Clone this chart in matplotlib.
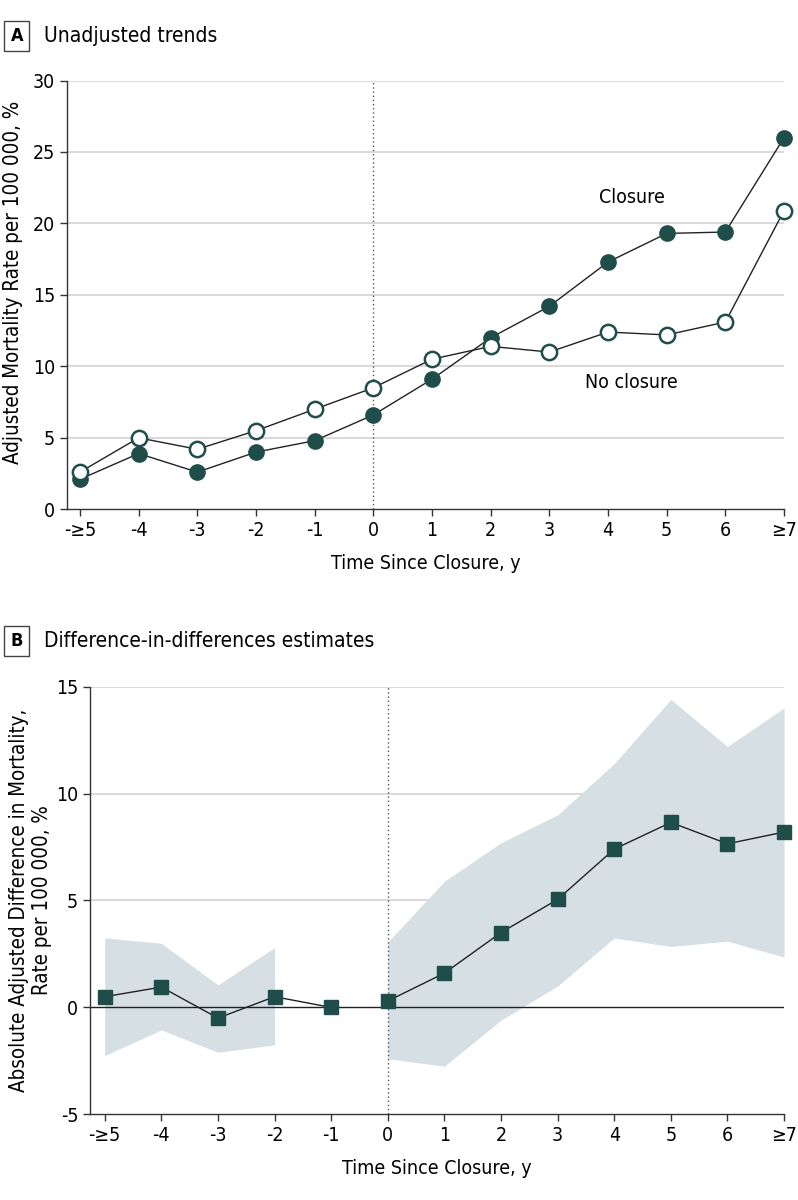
import numpy as np
import matplotlib
matplotlib.use("Agg")
import matplotlib.pyplot as plt

plt.rcParams['font.family'] = ['DejaVu Sans']
plt.rcParams['font.stretch'] = 'condensed'
plt.rcParams['axes.unicode_minus'] = False

years = ["-≥5", "-4", "-3", "-2", "-1", "0", "1", "2", "3", "4", "5", "6", "≥7"]

# Panel A: unadjusted mortality rates
closure = [2.1, 3.9, 2.6, 4.0, 4.8, 6.6, 9.1, 12.0, 14.2, 17.3, 19.3, 19.4, 26.0]
no_closure = [2.6, 5.0, 4.2, 5.5, 7.0, 8.5, 10.5, 11.4, 11.0, 12.4, 12.2, 13.1, 20.9]

# Panel B: difference-in-differences estimates with 95% CI
did = [0.5, 0.95, -0.5, 0.5, 0.0, 0.3, 1.6, 3.5, 5.05, 7.4, 8.65, 7.65, 8.2]
ci_low = [-2.25, -1.05, -2.1, -1.75, None, -2.4, -2.75, -0.6, 1.0, 3.25, 2.85, 3.1, 2.35]
ci_high = [3.25, 3.0, 1.05, 2.8, None, 3.05, 5.9, 7.7, 9.0, 11.4, 14.4, 12.2, 14.0]

teal = "#1f4e4a"
band = "#d5dfe4"
grid_c = "#d3d3d3"
spine_c = "#333333"

fig = plt.figure(figsize=(7.98, 12), dpi=100)
x = np.arange(len(years))


def style_axes(ax, xl):
    for s in ["top", "right"]:
        ax.spines[s].set_visible(False)
    for s in ["left", "bottom"]:
        ax.spines[s].set_color(spine_c)
        ax.spines[s].set_linewidth(1.0)
    ax.tick_params(axis="both", labelsize=14, length=5, color=spine_c, width=1.0)
    ax.set_xticks(x)
    ax.set_xticklabels(years)
    ax.set_xlim(xl, 12)
    ax.set_xlabel("Time Since Closure, y", fontsize=14, labelpad=10)


# ---- Panel A ----
ax1 = fig.add_axes([0.084, 0.5756, 0.8985, 0.3573])
style_axes(ax1, -0.22)
ax1.set_ylim(0, 30)
ax1.set_yticks(range(0, 31, 5))
for v in range(5, 31, 5):
    ax1.axhline(v, color=grid_c, lw=1.2, zorder=0)
ax1.axvline(5, color="#555555", ls=(0, (1, 2)), lw=1.0, zorder=1)
ax1.plot(x, closure, color="#222222", lw=1.0, marker="o", ms=11,
         mfc=teal, mec=teal, clip_on=False, zorder=3)
ax1.plot(x, no_closure, color="#222222", lw=1.0, marker="o", ms=11,
         mfc="white", mec=teal, mew=1.8, clip_on=False, zorder=3)
ax1.text(9.4, 21.8, "Closure", fontsize=14, ha="center", va="center")
ax1.text(9.4, 8.9, "No closure", fontsize=14, ha="center", va="center")
ax1.set_ylabel("Adjusted Mortality Rate per 100 000, %", fontsize=14.8)
ax1.yaxis.set_label_coords(-0.062, 0.53)

# ---- Panel B ----
ax2 = fig.add_axes([0.1128, 0.0714, 0.8697, 0.3564])
style_axes(ax2, -0.26)
ax2.set_ylim(-5, 15)
ax2.set_yticks([-5, 0, 5, 10, 15])
for v in [5, 10, 15]:
    ax2.axhline(v, color=grid_c, lw=1.2, zorder=0)
ax2.axhline(0, color="#222222", lw=1.0, zorder=1)
ax2.axvline(5, color="#555555", ls=(0, (1, 2)), lw=1.0, zorder=2)
lo = np.array([np.nan if v is None else v for v in ci_low])
hi = np.array([np.nan if v is None else v for v in ci_high])
ax2.fill_between(x[:4], lo[:4], hi[:4], color=band, lw=0, zorder=0.5)
ax2.fill_between(x[5:], lo[5:], hi[5:], color=band, lw=0, zorder=0.5)
ax2.plot(x[:5], did[:5], color="#222222", lw=1.0, marker="s", ms=10,
         mfc=teal, mec=teal, clip_on=False, zorder=3)
ax2.plot(x[5:], did[5:], color="#222222", lw=1.0, marker="s", ms=10,
         mfc=teal, mec=teal, clip_on=False, zorder=3)
ax2.set_ylabel("Absolute Adjusted Difference in Mortality,\nRate per 100 000, %",
               fontsize=14.8, labelpad=3)

# ---- Panel labels ----
box = dict(boxstyle="square,pad=0.35", fc="white", ec="#444444", lw=1.0)
fig.text(0.021, 1 - 36 / 1200, "A", fontsize=13, fontweight="bold",
         ha="center", va="center", bbox=box)
fig.text(0.055, 1 - 36 / 1200, "Unadjusted trends", fontsize=15,
         ha="left", va="center")
fig.text(0.021, 1 - 641 / 1200, "B", fontsize=13, fontweight="bold",
         ha="center", va="center", bbox=box)
fig.text(0.055, 1 - 641 / 1200, "Difference-in-differences estimates", fontsize=15,
         ha="left", va="center")

plt.savefig("out.png", dpi=100)
